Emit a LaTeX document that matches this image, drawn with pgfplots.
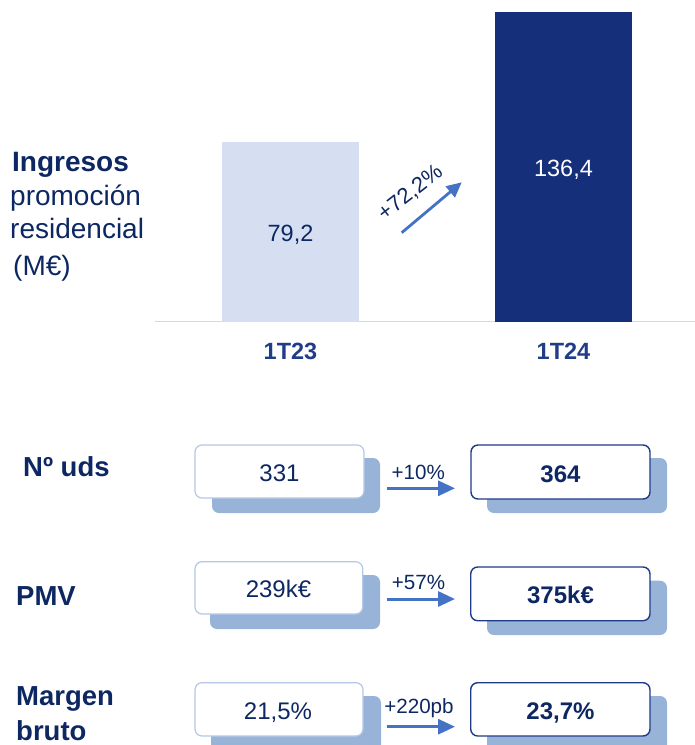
\documentclass[border=0pt]{standalone}
\usepackage{pgfplots}
\pgfplotsset{compat=1.18}
\usepackage{fontspec}
\setmainfont{Liberation Sans}
\usetikzlibrary{arrows.meta}

\definecolor{navy}{HTML}{0D2762}
\definecolor{catblue}{HTML}{213C88}
\definecolor{barlight}{HTML}{D6DFF1}
\definecolor{bardark}{HTML}{152F7A}
\definecolor{shadowblue}{HTML}{97B3D8}
\definecolor{lightborder}{HTML}{B4C7E7}
\definecolor{darkborder}{HTML}{1F3A87}
\definecolor{arrowblue}{HTML}{4472C4}
\definecolor{axisgray}{HTML}{D9D9D9}

\newcommand{\fs}[1]{\fontsize{#1pt}{#1pt}\selectfont}

\begin{document}
\begin{tikzpicture}
  \useasboundingbox (0,0) rectangle (695pt,-745pt);

  % bar chart
  \begin{axis}[at={(155pt,-321.5pt)}, anchor=south west,
      scale only axis, width=540pt, height=317.3pt,
      xmin=-0.4963, xmax=1.4817, ymin=0, ymax=140,
      hide y axis, axis x line*=bottom,
      x axis line style={draw=axisgray, line width=1.8pt},
      xtick={0,1}, xticklabels={1T23,1T24}, major tick length=0pt,
      xticklabel style={font=\bfseries\fs{23.5}, text=catblue, anchor=base,
        inner sep=0pt, yshift=-37.8pt},
      clip=false]
    \addplot[ybar, bar width=137pt, bar shift=0pt, fill=barlight, draw=none,
      nodes near coords, point meta=explicit symbolic,
      every node near coord/.append style={anchor=base, inner sep=0pt,
        yshift=-99.8pt, font=\fs{23.5}, text=navy}]
      coordinates {(0,79.2) [79,2]};
    \addplot[ybar, bar width=137pt, bar shift=0pt, fill=bardark, draw=none,
      nodes near coords, point meta=explicit symbolic,
      every node near coord/.append style={anchor=base, inner sep=0pt,
        yshift=-164pt, font=\fs{23.5}, text=white}]
      coordinates {(1,136.4) [136,4]};
  \end{axis}

  \begin{scope}[x=1pt, y=-1pt]
    % left title
    \node[anchor=base west, inner sep=0pt, font=\bfseries\fs{28}, text=navy] at (12,171.7) {Ingresos};
    \node[anchor=base west, inner sep=0pt, font=\fs{28}, text=navy] at (10,205) {promoción};
    \node[anchor=base west, inner sep=0pt, font=\fs{28}, text=navy] at (10,238.3) {residencial};
    \node[anchor=base west, inner sep=0pt, font=\fs{28}, text=navy] at (13,275) {(M€)};

    % growth arrow
    \draw[arrowblue, line width=2.8pt, -{Triangle[length=15pt,width=14pt]}] (401.7,232.7) -- (461.7,182.3);
    \node[rotate=38, inner sep=0pt, font=\fs{22}, text=navy] at (410.5,193) {+72,2\%};

    % row labels
    \node[anchor=base west, inner sep=0pt, font=\bfseries\fs{27.5}, text=navy] at (23,476.7) {Nº uds};
    \node[anchor=base west, inner sep=0pt, font=\bfseries\fs{27.5}, text=navy] at (16,605) {PMV};
    \node[anchor=base west, inner sep=0pt, font=\bfseries\fs{27.5}, text=navy] at (16,705) {Margen};
    \node[anchor=base west, inner sep=0pt, font=\bfseries\fs{27.5}, text=navy] at (16,740.7) {bruto};

    % row 1
    \fill[shadowblue, rounded corners=7pt] (212,458) rectangle (380,513);
    \draw[lightborder, line width=1.2pt, fill=white, rounded corners=7pt] (195,445) rectangle (364,498);
    \fill[shadowblue, rounded corners=7pt] (487,458) rectangle (667,513);
    \draw[darkborder, line width=1.4pt, fill=white, rounded corners=7pt] (471,445) rectangle (650,499);
    \draw[arrowblue, line width=3pt, -{Triangle[length=17pt,width=15pt]}] (386.7,488.3) -- (455,488.3);
    \node[anchor=base, inner sep=0pt, font=\fs{20.6}, text=navy] at (418.3,479.3) {+10\%};
    \node[anchor=base, inner sep=0pt, font=\fs{24}, text=navy] at (279.5,481.7) {331};
    \node[anchor=base, inner sep=0pt, font=\bfseries\fs{24}, text=navy] at (560.5,482) {364};

    % row 2
    \fill[shadowblue, rounded corners=7pt] (210,575) rectangle (380,629);
    \draw[lightborder, line width=1.2pt, fill=white, rounded corners=7pt] (195,561.7) rectangle (362.7,614);
    \fill[shadowblue, rounded corners=7pt] (487,580.7) rectangle (667,635);
    \draw[darkborder, line width=1.4pt, fill=white, rounded corners=7pt] (470.7,567) rectangle (650,620.7);
    \draw[arrowblue, line width=3pt, -{Triangle[length=17pt,width=15pt]}] (386.7,599) -- (455,599);
    \node[anchor=base, inner sep=0pt, font=\fs{20.6}, text=navy] at (418.5,589) {+57\%};
    \node[anchor=base, inner sep=0pt, font=\fs{24}, text=navy] at (278.5,597.7) {239k€};
    \node[anchor=base, inner sep=0pt, font=\bfseries\fs{24}, text=navy] at (560.5,603) {375k€};

    % row 3
    \fill[shadowblue, rounded corners=7pt] (211,696) rectangle (381,760);
    \draw[lightborder, line width=1.2pt, fill=white, rounded corners=7pt] (195,682.7) rectangle (363,736);
    \fill[shadowblue, rounded corners=7pt] (487,696) rectangle (667,760);
    \draw[darkborder, line width=1.4pt, fill=white, rounded corners=7pt] (470.7,682.7) rectangle (650,736);
    \draw[arrowblue, line width=3pt, -{Triangle[length=17pt,width=15pt]}] (386.7,726.7) -- (455,726.7);
    \node[anchor=base, inner sep=0pt, font=\fs{20.6}, text=navy] at (419,713.3) {+220pb};
    \node[anchor=base, inner sep=0pt, font=\fs{24}, text=navy] at (278,719) {21,5\%};
    \node[anchor=base, inner sep=0pt, font=\bfseries\fs{24}, text=navy] at (560.5,719) {23,7\%};
  \end{scope}
\end{tikzpicture}
\end{document}
